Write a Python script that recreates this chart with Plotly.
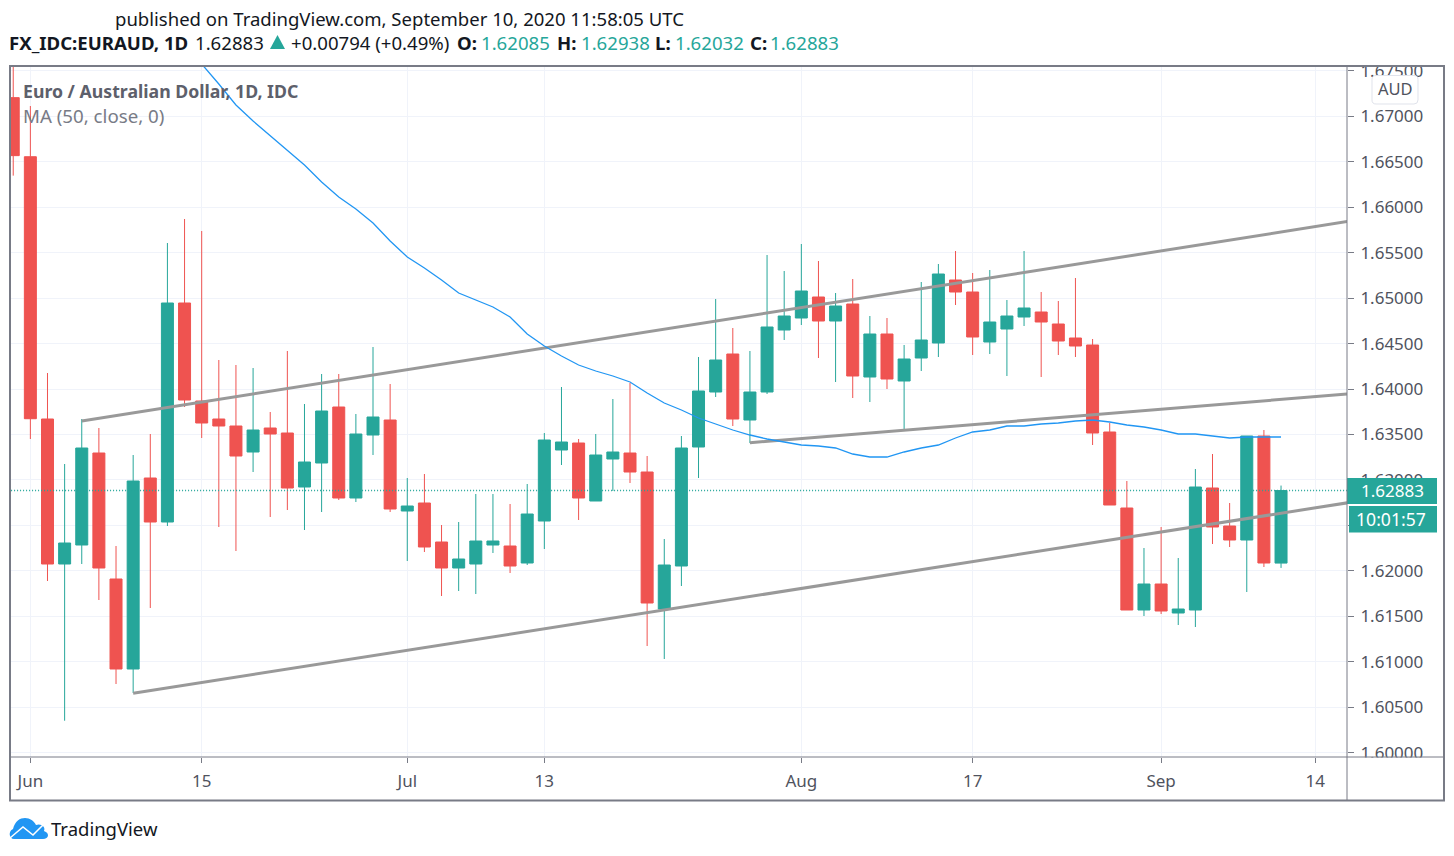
import plotly.graph_objects as go

# bar -1 is 29 May, bar 0 is 1 Jun, weekdays only
bar_index = list(range(-1, 74))

opens = [1.67205, 1.66555, 1.63670, 1.62075, 1.62284, 1.63296, 1.61910, 1.60920, 1.63021, 1.62537,
         1.64946, 1.63868, 1.63670, 1.63593, 1.63307, 1.63571, 1.63516, 1.62922, 1.63186, 1.63802,
         1.62801, 1.63494, 1.63659, 1.62658, 1.62746, 1.62317, 1.62031, 1.62075, 1.62284, 1.62273,
         1.62086, 1.62548, 1.63329, 1.63406, 1.62768, 1.63230, 1.63296, 1.63087, 1.61580, 1.62053,
         1.63362, 1.63967, 1.64385, 1.63659, 1.63967, 1.64649, 1.64781, 1.65012, 1.64748, 1.64935,
         1.64132, 1.64605, 1.64088, 1.64341, 1.64506, 1.65199, 1.65067, 1.64517, 1.64660, 1.64792,
         1.64847, 1.64715, 1.64561, 1.64484, 1.63527, 1.62691, 1.61569, 1.61855, 1.61536, 1.61569,
         1.62911, 1.62493, 1.62339, 1.63483, 1.62085]
highs = [1.67700, 1.67113, 1.64176, 1.63175, 1.63670, 1.63571, 1.62273, 1.63274, 1.63505, 1.65606,
         1.65870, 1.65738, 1.64319, 1.64264, 1.64231, 1.63747, 1.64418, 1.63835, 1.64165, 1.64165,
         1.63725, 1.64462, 1.64055, 1.63021, 1.63065, 1.62504, 1.62537, 1.62845, 1.62845, 1.62735,
         1.62955, 1.63516, 1.64022, 1.63450, 1.63505, 1.63890, 1.64066, 1.63263, 1.62350, 1.63483,
         1.64352, 1.64990, 1.64671, 1.64418, 1.65474, 1.65298, 1.65595, 1.65408, 1.65056, 1.65210,
         1.64803, 1.64781, 1.64484, 1.65177, 1.65375, 1.65518, 1.65276, 1.65309, 1.64979, 1.65518,
         1.65067, 1.64968, 1.65221, 1.64550, 1.63626, 1.62988, 1.62251, 1.62482, 1.62141, 1.63120,
         1.63285, 1.62746, 1.63483, 1.63549, 1.62938]
lows = [1.66347, 1.63450, 1.61888, 1.60351, 1.62075, 1.61679, 1.60755, 1.60656, 1.61591, 1.62493,
        1.63802, 1.63461, 1.62482, 1.62218, 1.63087, 1.62592, 1.62669, 1.62449, 1.62647, 1.62779,
        1.62757, 1.63274, 1.62647, 1.62108, 1.62207, 1.61723, 1.61778, 1.61745, 1.62196, 1.61976,
        1.62064, 1.62240, 1.63164, 1.62559, 1.62768, 1.62878, 1.62966, 1.61173, 1.61030, 1.61833,
        1.63021, 1.63912, 1.63593, 1.63406, 1.63945, 1.64539, 1.64704, 1.64341, 1.64077, 1.63901,
        1.63857, 1.64000, 1.63538, 1.64198, 1.64352, 1.64924, 1.64374, 1.64385, 1.64143, 1.64693,
        1.64132, 1.64374, 1.64352, 1.63384, 1.62724, 1.61569, 1.61503, 1.61525, 1.61404, 1.61382,
        1.62295, 1.62262, 1.61767, 1.62042, 1.62032]
closes = [1.66567, 1.63673, 1.62075, 1.62306, 1.63351, 1.62031, 1.60920, 1.62988, 1.62537, 1.64946,
          1.63879, 1.63626, 1.63593, 1.63263, 1.63549, 1.63505, 1.62911, 1.63197, 1.63758, 1.62801,
          1.63505, 1.63692, 1.62680, 1.62713, 1.62262, 1.62031, 1.62130, 1.62328, 1.62328, 1.62053,
          1.62625, 1.63439, 1.63417, 1.62801, 1.63274, 1.63307, 1.63087, 1.61646, 1.62064, 1.63351,
          1.63978, 1.64319, 1.63670, 1.63967, 1.64682, 1.64803, 1.65078, 1.64748, 1.64913, 1.64143,
          1.64605, 1.64110, 1.64330, 1.64539, 1.65265, 1.65067, 1.64572, 1.64737, 1.64803, 1.64891,
          1.64737, 1.64528, 1.64473, 1.63516, 1.62724, 1.61569, 1.61855, 1.61558, 1.61580, 1.62922,
          1.62482, 1.62339, 1.63483, 1.62086, 1.62883]

ma_index = list(range(9, 74))
ma_values = [1.67773, 1.67575, 1.67355, 1.67124, 1.66948, 1.66783, 1.66629, 1.66464, 1.66277, 1.66112,
             1.65980, 1.65826, 1.65628, 1.65452, 1.65331, 1.65199, 1.65056, 1.64979, 1.64902, 1.64792,
             1.64605, 1.64473, 1.64363, 1.64264, 1.64198, 1.64143, 1.64077, 1.63956, 1.63846, 1.63769,
             1.63681, 1.63615, 1.63549, 1.63494, 1.63450, 1.63417, 1.63384, 1.63373, 1.63351, 1.63285,
             1.63252, 1.63252, 1.63307, 1.63351, 1.63384, 1.63461, 1.63527, 1.63549, 1.63593, 1.63593,
             1.63615, 1.63626, 1.63648, 1.63659, 1.63637, 1.63604, 1.63582, 1.63549, 1.63505, 1.63505,
             1.63483, 1.63461, 1.63472, 1.63472, 1.63472]

# drawn trend lines: (start bar, start price, end bar, end price)
upper_line = (3, 1.63648, 76.9, 1.65843)
middle_line = (42, 1.63409, 76.9, 1.63945)
lower_line = (6, 1.60653, 76.9, 1.62749)

tick_index = [0, 10, 22, 30, 45, 55, 66, 75]
tick_labels = ["Jun", "15", "Jul", "13", "Aug", "17", "Sep", "14"]
price_ticks = [1.600, 1.605, 1.610, 1.615, 1.620, 1.625, 1.630, 1.635,
               1.640, 1.645, 1.650, 1.655, 1.660, 1.665, 1.670, 1.675]
last_price = 1.62883

GREEN = "#26a69a"
RED = "#ef5350"
BLUE = "#2196f3"
TEXT = "#131722"
AXIS = "#787b86"
GRID = "#f0f3fa"
FONT = "Noto Sans"

# plot area in page pixels
L, R, T, B = 11, 1347, 67, 757


def px(x):
    return (x - L) / (R - L)


def py(y):
    return (B - y) / (B - T)


def label(text, x, y, size, color=TEXT, anchor="left", bold=False):
    return dict(text=f"<b>{text}</b>" if bold else text, x=px(x), y=py(y), xref="paper", yref="paper",
                xanchor=anchor, yanchor="middle", showarrow=False, borderpad=0,
                font=dict(family=FONT, size=size, color=color))


def box(x0, y0, x1, y1, fill="white", line=None, width=0):
    return dict(type="rect", xref="paper", yref="paper", x0=px(x0), x1=px(x1), y0=py(y0), y1=py(y1),
                fillcolor=fill, line=dict(color=line or fill, width=width), layer="above")


def seg(x0, y0, x1, y1, color=AXIS, width=1):
    return dict(type="line", xref="paper", yref="paper", x0=px(x0), x1=px(x1), y0=py(y0), y1=py(y1),
                line=dict(color=color, width=width), layer="above")


def path(points, fill=None, line=None, width=0):
    parts = []
    for cmd, *xy in points:
        coords = " ".join(f"{px(a):.5f},{py(b):.5f}" for a, b in zip(xy[0::2], xy[1::2]))
        parts.append(f"{cmd}{coords}")
    return dict(type="path", xref="paper", yref="paper", path=" ".join(parts) + (" Z" if fill else ""),
                fillcolor=fill or "rgba(0,0,0,0)", line=dict(color=line or "rgba(0,0,0,0)", width=width),
                layer="above")


fig = go.Figure()

for x0, p0, x1, p1 in (upper_line, middle_line, lower_line):
    fig.add_trace(go.Scatter(x=[x0, x1], y=[p0, p1], mode="lines", line=dict(color="#999999", width=3)))

fig.add_trace(go.Candlestick(
    x=bar_index, open=opens, high=highs, low=lows, close=closes,
    increasing=dict(line=dict(color=GREEN, width=1), fillcolor=GREEN),
    decreasing=dict(line=dict(color=RED, width=1), fillcolor=RED),
))
fig.add_trace(go.Scatter(x=[-2, 77], y=[last_price, last_price], mode="lines",
                         line=dict(color=GREEN, width=1.5, dash="1px 2px")))
fig.add_trace(go.Scatter(x=ma_index, y=ma_values, mode="lines", line=dict(color=BLUE, width=1.3)))

shapes = [
    box(1349, 50, 1443, 65.5),
    box(1349, 757.5, 1443, 772),
    box(1347, 478, 1437, 504, fill=GREEN),
    box(1349, 506, 1437, 532.5, fill=GREEN),
    path([("M", 1376, 75.5), ("L", 1414, 75.5), ("Q", 1418, 75.5, 1418, 79.5), ("L", 1418, 100),
          ("Q", 1418, 104, 1414, 104), ("L", 1376, 104), ("Q", 1372, 104, 1372, 100), ("L", 1372, 79.5),
          ("Q", 1372, 75.5, 1376, 75.5)], fill="white", line="#e0e3eb", width=1),
    seg(1347, 67, 1347, 800),
    seg(11, 757, 1444, 757),
    box(10, 66, 1444, 800.5, fill="rgba(0,0,0,0)", line=AXIS, width=2),
    # change triangle in the header
    path([("M", 277.5, 35), ("L", 285, 49), ("L", 270, 49)], fill=GREEN),
    # TradingView cloud
    path([("M", 14, 839), ("C", 9, 839, 8, 831, 13, 829), ("C", 15, 821, 20, 818, 25, 818),
          ("C", 30, 818, 34, 821, 36, 825), ("C", 41, 823, 46, 827, 44, 831), ("C", 50, 833, 49, 839, 43, 839)],
         fill=BLUE),
    path([("M", 10, 838), ("L", 23, 827), ("L", 33, 835), ("L", 43, 825)], line="white", width=1.5),
]

HEAD = 18.6
annotations = [
    label("published on TradingView.com, September 10, 2020 11:58:05 UTC", 114, 18, 18.55),
    label("FX_IDC:EURAUD, 1D", 8, 43, HEAD, bold=True),
    label("1.62883", 194, 43, HEAD),
    label("+0.00794 (+0.49%)", 290, 43, HEAD),
    label("O:", 456, 43, HEAD, bold=True),
    label("1.62085", 480, 43, HEAD, color=GREEN),
    label("H:", 556, 43, HEAD, bold=True),
    label("1.62938", 580, 43, HEAD, color=GREEN),
    label("L:", 654, 43, HEAD, bold=True),
    label("1.62032", 674, 43, HEAD, color=GREEN),
    label("C:", 749, 43, HEAD, bold=True),
    label("1.62883", 769, 43, HEAD, color=GREEN),
    label("Euro / Australian Dollar, 1D, IDC", 22, 91, 17.7, color="#5d606b", bold=True),
    label("MA (50, close, 0)", 22, 116, 18.7, color="#787b86"),
    label("AUD", 1395, 88.5, 16.5, color="#50535e", anchor="center"),
    label("1.62883", 1392, 491, 17, color="white", anchor="center"),
    label("10:01:57", 1390.5, 519, 17.6, color="white", anchor="center"),
    label("TradingView", 50, 828, 18.5, color=TEXT),
]

fig.update_layout(
    width=1454,
    height=856,
    margin=dict(l=L, r=1454 - R, t=T, b=856 - B),
    paper_bgcolor="white",
    plot_bgcolor="white",
    showlegend=False,
    boxgap=0.3,
    boxgroupgap=0,
    shapes=shapes,
    annotations=annotations,
    font=dict(family=FONT, color="#50535e"),
    xaxis=dict(
        range=[-1.13, 76.85], rangeslider=dict(visible=False), tickmode="array",
        tickvals=tick_index, ticktext=tick_labels, showgrid=True, gridcolor=GRID, gridwidth=1,
        ticks="outside", ticklen=5, tickcolor=AXIS, tickfont=dict(size=17), ticklabelstandoff=4,
        zeroline=False, showline=False,
    ),
    yaxis=dict(
        range=[1.59952, 1.67542], side="right", tickmode="array", tickvals=price_ticks, tickformat=".5f",
        showgrid=True, gridcolor=GRID, gridwidth=1, ticks="outside", ticklen=6, tickcolor=AXIS,
        tickfont=dict(size=17), ticklabelstandoff=3, zeroline=False, showline=False,
    ),
)

# the page body would otherwise push the figure 8px in
fig.write_html("out.html", config={"displayModeBar": False},
               post_script="document.body.style.margin = '0';")
